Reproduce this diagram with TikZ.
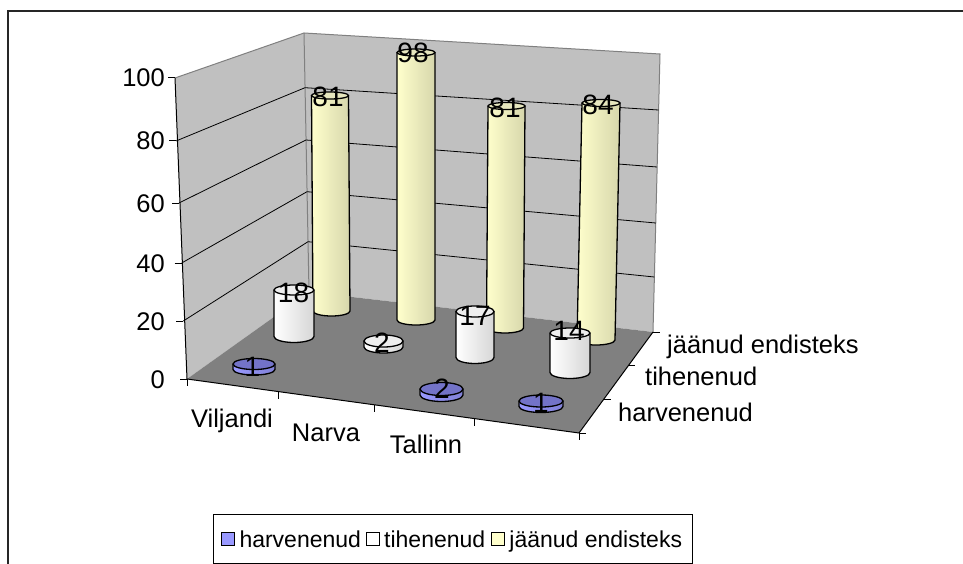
\documentclass[tikz,border=0pt]{standalone}
\usepackage{fontspec}
\setmainfont{Liberation Sans}
\usetikzlibrary{positioning}

\definecolor{wallgrey}{HTML}{C0C0C0}
\definecolor{floorgrey}{HTML}{808080}
\definecolor{edgegrey}{HTML}{808080}
\definecolor{ylwside}{HTML}{FFFFCC}
\definecolor{ylwtop}{HTML}{E6E6BE}
\definecolor{whtside}{HTML}{FFFFFF}
\definecolor{whttop}{HTML}{EEEEEE}
\definecolor{bluside}{HTML}{9999FF}
\definecolor{blutop}{HTML}{7373C8}

% top cx, top y, bottom cx, bottom y, radius, top ry, bottom ry, colour
\newcommand{\cylbar}[8]{%
	\draw[bar, left color=#8side, right color=#8side!84!black] ({#1-#5},#2) -- ({#3-#5},#4) arc[start angle=180, end angle=0, x radius=#5, y radius=#7] -- ({#1+#5},#2) -- cycle;
	\draw[bar, fill=#8top] (#1,#2) ellipse[x radius=#5, y radius=#6];
}

\begin{document}
\begin{tikzpicture}[x=1pt,y=-1pt,
	bar/.style={draw=black, line width=1.3pt, line join=round},
	gridline/.style={black, line width=0.8pt},
	axisline/.style={black, line width=1pt},
	lbl/.style={font=\fontsize{25.5}{25.5}\selectfont, inner sep=0pt, text height=18pt, text depth=0pt},
	val/.style={font=\fontsize{28}{28}\selectfont, inner sep=0pt, text height=20pt, text depth=0pt},
	legsq/.style={draw=black, line width=0.8pt, minimum size=13pt, inner sep=0pt},
	legtxt/.style={font=\fontsize{23}{23}\selectfont, inner sep=0pt, text height=17pt, text depth=0pt}]
	\useasboundingbox (0,0) rectangle (963,564);
	\draw[line width=2pt, black!85] (8,564) -- (8,11) -- (963,11);

	% walls and floor
	\fill[wallgrey] (187,379) -- (175,78) -- (304,33) -- (309,292) -- cycle;
	\fill[wallgrey] (304,33) -- (660,54) -- (653,332) -- (309,292) -- cycle;
	\fill[floorgrey] (187,379) -- (309,292) -- (653,332) -- (579,433) -- cycle;
	\draw[edgegrey, line width=1pt] (175,78) -- (304,33) -- (660,54) -- (653,332);
	\draw[edgegrey, line width=1pt] (304,33) -- (309,292);

	\foreach \fx/\fy/\bx/\by/\rx/\ry in {183.3/321/308/241.7/654.4/277, 181.7/263/307/191.7/655.8/223, 179/203/306/140/657.2/167, 176/141/305/87.7/658.6/110}
		\draw[gridline] (\fx,\fy) -- (\bx,\by) -- (\rx,\ry);

	% axes
	\draw[axisline] (175,78) -- (187,379) -- (579,433) -- (653,332);
	\foreach \fx/\fy/\v in {187/379/0, 183.3/321/20, 181.7/263/40, 179/203/60, 176/141/80, 175/78/100}{
		\draw[axisline] (\fx-7,\fy) -- (\fx,\fy);
		\node[lbl, anchor=east] (Y_\v) at (165,\fy) {\v};
	}
	\foreach \tx/\ty in {187/379, 278/391.5, 374/404.8, 474/418.5, 579/433}
		\draw[axisline] (\tx,\ty) -- (\tx,\ty+7);
	\foreach \sx/\sy in {579/433, 603.7/399.3, 628.3/365.7, 653/332}
		\draw[axisline] (\sx,\sy) -- (\sx+7,\sy);

	\node[lbl] (VILJANDI) at (232,418.5) {Viljandi};
	\node[lbl] (NARVA) at (326,432) {Narva};
	\node[lbl] (TALLINN) at (426,444) {Tallinn};
	\node[lbl, anchor=west] (S_HARV) at (618,412.5) {harvenenud};
	\node[lbl, anchor=west] (S_TIH) at (645,376) {tihenenud};
	\node[lbl, anchor=west] (S_JAAN) at (667,344) {jäänud endisteks};

	% back row
	\cylbar{330}{95.5}{331.5}{311}{18.5}{3.5}{5}{ylw}
	\cylbar{416}{52.5}{416}{320}{19}{3.5}{5}{ylw}
	\cylbar{506.5}{106}{505}{328}{18.5}{3.5}{5}{ylw}
	\cylbar{601}{103}{596}{340}{19}{3.5}{5}{ylw}
	% middle row
	\cylbar{294}{290}{294}{336.5}{20}{5}{6}{wht}
	\cylbar{383.5}{341}{383.5}{347}{19.5}{6}{6}{wht}
	\cylbar{475}{311.5}{475}{357.5}{19}{5.5}{6}{wht}
	\cylbar{570}{333}{570}{372.5}{20}{5}{6}{wht}
	% front row
	\cylbar{254}{364}{254}{369.5}{21}{5.5}{5.5}{blu}
	\cylbar{441.5}{389}{441.5}{395}{21.5}{6.5}{6.5}{blu}
	\cylbar{541}{401}{541}{406.5}{22}{6}{6}{blu}

	\node[val] (V_J1) at (328,97) {81};
	\node[val] (V_J2) at (413,53) {98};
	\node[val] (V_J3) at (505,108) {81};
	\node[val] (V_J4) at (598,104.5) {84};
	\node[val] (V_T1) at (293.5,292) {18};
	\node[val] (V_T2) at (382,342) {2};
	\node[val] (V_T3) at (475,315) {17};
	\node[val] (V_T4) at (569,330) {14};
	\node[val] (V_H1) at (252.5,366) {1};
	\node[val] (V_H3) at (442,388) {2};
	\node[val] (V_H4) at (541,402) {1};

	% legend
	\node[draw, line width=1pt, minimum width=479pt, minimum height=49pt, inner sep=0pt] (LEGEND) at (452.5,538.5) {};
	\node[legsq, fill=bluside, right=8pt of LEGEND.west] (SQ_HARV) {};
	\node[legtxt, right=5pt of SQ_HARV] (L_HARV) {harvenenud};
	\node[legsq, fill=white, right=5pt of L_HARV] (SQ_TIH) {};
	\node[legtxt, right=4pt of SQ_TIH] (L_TIH) {tihenenud};
	\node[legsq, fill=ylwside, right=6pt of L_TIH] (SQ_JAAN) {};
	\node[legtxt, right=4pt of SQ_JAAN] (L_JAAN) {jäänud endisteks};
\end{tikzpicture}
\end{document}
